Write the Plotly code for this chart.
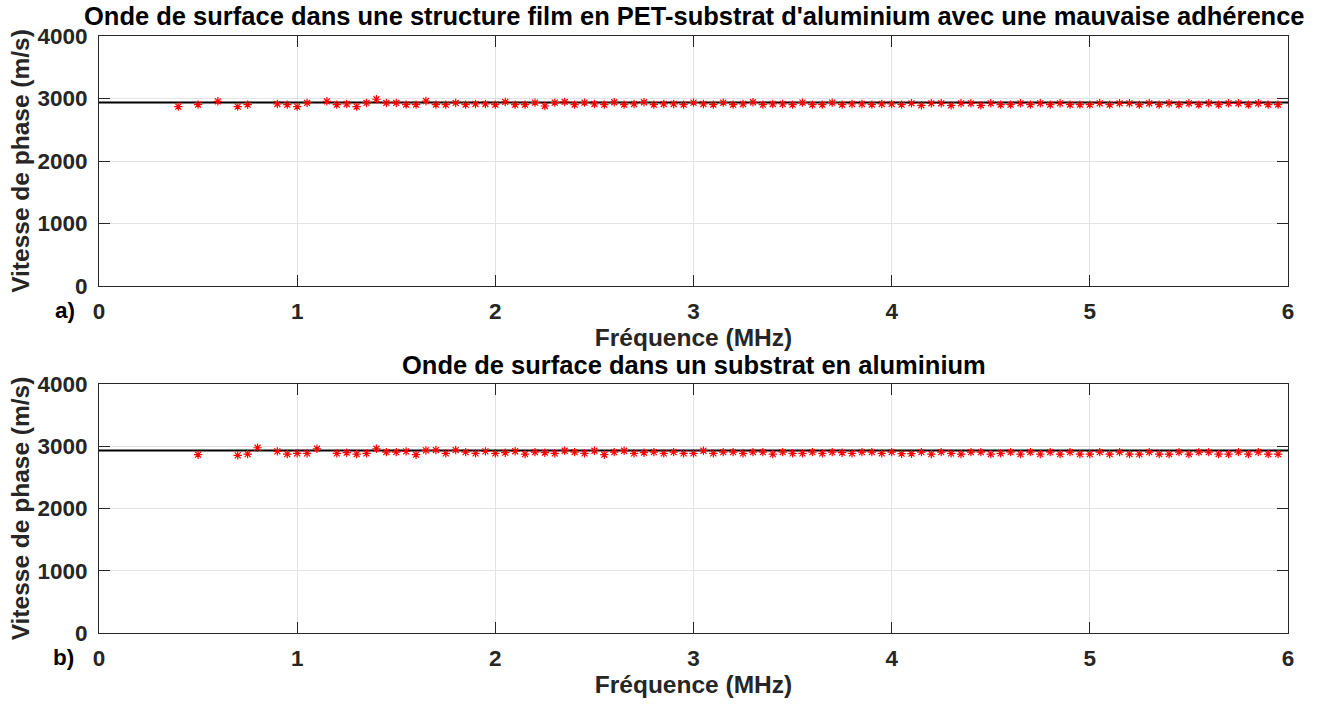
import plotly.graph_objects as go

# ---------------- data ----------------
freq_a = [0.4, 0.5, 0.6, 0.7, 0.75, 0.9, 0.95, 1.0, 1.05,
          1.15, 1.2, 1.25, 1.3, 1.35, 1.4, 1.45, 1.5, 1.55, 1.6, 1.65, 1.7, 1.75, 1.8, 1.85, 1.9, 1.95,
          2.0, 2.05, 2.1, 2.15, 2.2, 2.25, 2.3, 2.35, 2.4, 2.45, 2.5, 2.55, 2.6, 2.65, 2.7, 2.75, 2.8, 2.85, 2.9, 2.95,
          3.0, 3.05, 3.1, 3.15, 3.2, 3.25, 3.3, 3.35, 3.4, 3.45, 3.5, 3.55, 3.6, 3.65, 3.7, 3.75, 3.8, 3.85, 3.9, 3.95,
          4.0, 4.05, 4.1, 4.15, 4.2, 4.25, 4.3, 4.35, 4.4, 4.45, 4.5, 4.55, 4.6, 4.65, 4.7, 4.75, 4.8, 4.85, 4.9, 4.95,
          5.0, 5.05, 5.1, 5.15, 5.2, 5.25, 5.3, 5.35, 5.4, 5.45, 5.5, 5.55, 5.6, 5.65, 5.7, 5.75, 5.8, 5.85, 5.9, 5.95]
vel_a = [2870, 2902, 2955, 2870, 2902, 2912, 2902, 2870, 2929,
         2955, 2902, 2912, 2870, 2929, 2988, 2929, 2929, 2902, 2902, 2960, 2902, 2902, 2929, 2902, 2912, 2912,
         2902, 2945, 2902, 2902, 2934, 2880, 2934, 2945, 2902, 2934, 2912, 2902, 2940, 2902, 2912, 2940, 2902, 2912, 2912, 2902,
         2934, 2912, 2902, 2934, 2902, 2912, 2940, 2902, 2912, 2912, 2902, 2934, 2902, 2902, 2934, 2902, 2912, 2912, 2902, 2912,
         2912, 2902, 2923, 2891, 2923, 2923, 2891, 2923, 2923, 2891, 2923, 2902, 2902, 2923, 2902, 2923, 2902, 2923, 2902, 2902,
         2902, 2923, 2902, 2923, 2923, 2902, 2923, 2902, 2923, 2902, 2923, 2902, 2923, 2902, 2923, 2923, 2902, 2923, 2902, 2902]

freq_b = [0.5, 0.7, 0.75, 0.8, 0.9, 0.95, 1.0, 1.05, 1.1,
          1.2, 1.25, 1.3, 1.35, 1.4, 1.45, 1.5, 1.55, 1.6, 1.65, 1.7, 1.75, 1.8, 1.85, 1.9, 1.95,
          2.0, 2.05, 2.1, 2.15, 2.2, 2.25, 2.3, 2.35, 2.4, 2.45, 2.5, 2.55, 2.6, 2.65, 2.7, 2.75, 2.8, 2.85, 2.9, 2.95,
          3.0, 3.05, 3.1, 3.15, 3.2, 3.25, 3.3, 3.35, 3.4, 3.45, 3.5, 3.55, 3.6, 3.65, 3.7, 3.75, 3.8, 3.85, 3.9, 3.95,
          4.0, 4.05, 4.1, 4.15, 4.2, 4.25, 4.3, 4.35, 4.4, 4.45, 4.5, 4.55, 4.6, 4.65, 4.7, 4.75, 4.8, 4.85, 4.9, 4.95,
          5.0, 5.05, 5.1, 5.15, 5.2, 5.25, 5.3, 5.35, 5.4, 5.45, 5.5, 5.55, 5.6, 5.65, 5.7, 5.75, 5.8, 5.85, 5.9, 5.95]
vel_b = [2864, 2853, 2874, 2976, 2917, 2874, 2885, 2885, 2960,
         2885, 2896, 2874, 2885, 2960, 2906, 2906, 2917, 2864, 2933, 2939, 2885, 2939, 2906, 2885, 2917,
         2885, 2896, 2920, 2874, 2906, 2896, 2885, 2928, 2906, 2885, 2928, 2864, 2906, 2928, 2885, 2896, 2906, 2885, 2906, 2885,
         2885, 2928, 2885, 2906, 2906, 2885, 2906, 2906, 2874, 2906, 2885, 2885, 2906, 2885, 2906, 2896, 2885, 2906, 2906, 2885,
         2906, 2880, 2880, 2906, 2874, 2906, 2885, 2874, 2906, 2906, 2874, 2885, 2906, 2874, 2906, 2874, 2906, 2874, 2906, 2874,
         2874, 2906, 2874, 2906, 2874, 2874, 2906, 2874, 2874, 2906, 2874, 2906, 2906, 2874, 2874, 2906, 2874, 2906, 2874, 2874]

ref_x = [0, 6]
ref_a = [2935, 2935]
ref_b = [2932, 2932]

x_ticks = [0, 1, 2, 3, 4, 5, 6]
y_ticks = [0, 1000, 2000, 3000, 4000]

title_a = "Onde de surface dans une structure film en PET-substrat d'aluminium avec une mauvaise adhérence"
title_b = "Onde de surface dans un substrat en aluminium"
x_label = "Fréquence (MHz)"
y_label = "Vitesse de phase (m/s)"

# ---------------- figure ----------------
W, H = 1325, 706
FONT = "Liberation Sans, Arial, sans-serif"
AX = "#262626"
GRID = "#e3e3e3"
TICK_SIZE = 22.5
LABEL_SIZE = 24.5
TITLE_SIZE = 25.5

fig = go.Figure()

for xa, ya, fx, fv, rv in [("x", "y", freq_a, vel_a, ref_a), ("x2", "y2", freq_b, vel_b, ref_b)]:
    fig.add_trace(go.Scatter(x=ref_x, y=rv, mode="lines", xaxis=xa, yaxis=ya,
                             line=dict(color="black", width=2), showlegend=False, hoverinfo="skip"))
    fig.add_trace(go.Scatter(x=fx, y=fv, mode="markers", xaxis=xa, yaxis=ya,
                             marker=dict(symbol="asterisk", size=7, color="red",
                                         line=dict(color="red", width=1.2)),
                             showlegend=False))

def px_x(p):
    return p / W

def px_y(p):
    return 1 - p / H

x_dom = [px_x(99), px_x(1288)]
ya_dom = [px_y(286), px_y(36)]
yb_dom = [px_y(633), px_y(384)]

xcommon = dict(range=[0, 6], tickvals=x_ticks, ticks="inside", ticklen=11, tickcolor=AX,
               showline=True, linecolor=AX, linewidth=1, mirror="ticks", automargin=False,
               showgrid=True, gridcolor=GRID, gridwidth=1, zeroline=False,
               ticklabelstandoff=5,
               tickfont=dict(family=FONT, size=TICK_SIZE, color=AX, weight="bold"),
               title=dict(text=x_label, standoff=2,
                          font=dict(family=FONT, size=LABEL_SIZE, color=AX, weight="bold")),
               domain=x_dom)
ycommon = dict(range=[0, 4000], tickvals=y_ticks, ticks="inside", ticklen=11, tickcolor=AX,
               showline=True, linecolor=AX, linewidth=1, mirror="ticks", automargin=False,
               showgrid=True, gridcolor=GRID, gridwidth=1, zeroline=False,
               ticklabelstandoff=6,
               tickfont=dict(family=FONT, size=TICK_SIZE, color=AX, weight="bold"),
               title=dict(text=y_label, standoff=0,
                          font=dict(family=FONT, size=LABEL_SIZE, color=AX, weight="bold")))

fig.update_layout(
    width=W, height=H,
    margin=dict(l=0, r=0, t=0, b=0),
    paper_bgcolor="white", plot_bgcolor="white",
    xaxis=dict(**xcommon, anchor="y"),
    yaxis=dict(**ycommon, domain=ya_dom, anchor="x"),
    xaxis2=dict(**xcommon, anchor="y2"),
    yaxis2=dict(**ycommon, domain=yb_dom, anchor="x2"),
    showlegend=False,
)

title_font = dict(family=FONT, size=TITLE_SIZE, color="black", weight="bold")
lab_font = dict(family=FONT, size=TICK_SIZE, color="black", weight="bold")
fig.add_annotation(text=title_a, x=px_x(694), y=px_y(16), xref="paper", yref="paper",
                   showarrow=False, font=title_font, xanchor="center", yanchor="middle")
fig.add_annotation(text=title_b, x=px_x(694), y=px_y(365), xref="paper", yref="paper",
                   showarrow=False, font=title_font, xanchor="center", yanchor="middle")
fig.add_annotation(text="a)", x=px_x(65), y=px_y(310), xref="paper", yref="paper",
                   showarrow=False, font=lab_font, xanchor="center", yanchor="middle")
fig.add_annotation(text="b)", x=px_x(63), y=px_y(657), xref="paper", yref="paper",
                   showarrow=False, font=lab_font, xanchor="center", yanchor="middle")

fig.write_html("out.html", config={"displayModeBar": False},
               post_script="document.body.style.margin='0';")
